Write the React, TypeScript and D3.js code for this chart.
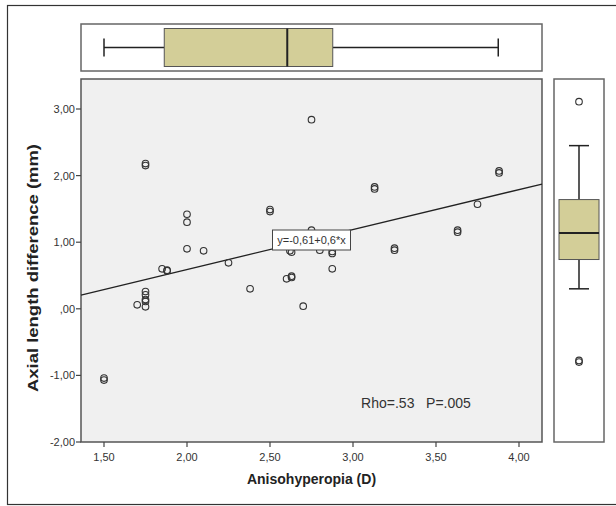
import React from "react";
import * as d3 from "d3";

const xValues = [1.50, 1.50, 1.70, 1.75, 1.75, 1.75, 1.75, 1.75, 1.75, 1.75, 1.85, 1.88, 1.88, 2.00, 2.00, 2.00, 2.10, 2.25, 2.38, 2.50, 2.50, 2.60, 2.63, 2.63, 2.63, 2.62, 2.70, 2.75, 2.75, 2.80, 2.875, 2.875, 2.875, 3.13, 3.13, 3.25, 3.25, 3.63, 3.63, 3.75, 3.88, 3.88];
const yValues = [-1.04, -1.07, 0.06, 0.26, 0.21, 0.14, 0.11, 0.03, 2.15, 2.18, 0.60, 0.58, 0.57, 1.42, 1.30, 0.90, 0.87, 0.69, 0.30, 1.46, 1.49, 0.45, 0.47, 0.49, 0.85, 0.87, 0.04, 2.84, 1.18, 0.88, 0.83, 0.86, 0.60, 1.80, 1.83, 0.88, 0.91, 1.15, 1.18, 1.57, 2.04, 2.07];

// boxplot stats: [whiskerLow, Q1, median, Q3, whiskerHigh]
const xBoxStats = [1.50, 1.863, 2.604, 2.878, 3.875];
const yBoxStats = [0.30, 0.74, 1.14, 1.64, 2.45];
const yBoxOutliers = [3.11, -0.775, -0.80];

const xTicks = [1.5, 2.0, 2.5, 3.0, 3.5, 4.0];
const yTicks = [-2, -1, 0, 1, 2, 3];

const fitIntercept = -0.61;
const fitSlope = 0.6;
const equationLabel = "y=-0,61+0,6*x";
const statsLabel = "Rho=.53   P=.005";
const xTitle = "Anisohyperopia (D)";
const yTitle = "Axial length difference (mm)";

const fmt = (v: number) => {
  const s = Math.abs(v).toFixed(2).replace(".", ",");
  const t = Math.abs(v) < 1 ? s.replace(/^0/, "") : s;
  return (v < 0 ? "-" : "") + t;
};

export default function App() {
  const W = 616, H = 506;
  const pl = 81, pr = 542, pt = 79, pb = 442;
  const x = d3.scaleLinear().domain([1.5, 4.0]).range([104, 519]);
  const y = d3.scaleLinear().domain([-2, 3]).range([442, 109]);
  const xd0 = x.invert(pl), xd1 = x.invert(pr);
  const font = "'Liberation Sans', Arial, sans-serif";
  const boxFill = "#d3ce98";
  const ink = "#222";

  const line = d3.line<number>().x((d) => x(d)).y((d) => y(fitIntercept + fitSlope * d));

  // top box panel
  const tp = { x0: pl, x1: pr, y0: 24, y1: 71 };
  const tcy = (tp.y0 + tp.y1) / 2;
  // right box panel
  const rp = { x0: 554, x1: 604, y0: pt, y1: pb };
  const rcx = (rp.x0 + rp.x1) / 2;

  const eqX = x(2.75), eqY = 240;

  return (
    <svg width={W} height={H} style={{ position: "absolute", left: 0, top: 0 }} fontFamily={font}>
      <rect x={0} y={0} width={W} height={H} fill="#fff" />
      <rect x={7.5} y={5.5} width={640} height={499} fill="#fff" stroke="#333" strokeWidth={1.2} />

      {/* top boxplot */}
      <rect x={tp.x0} y={tp.y0} width={tp.x1 - tp.x0} height={tp.y1 - tp.y0} fill="#fff" stroke="#666" strokeWidth={1.5} />
      <line x1={x(xBoxStats[0])} x2={x(xBoxStats[1])} y1={tcy} y2={tcy} stroke={ink} strokeWidth={1.5} />
      <line x1={x(xBoxStats[3])} x2={x(xBoxStats[4])} y1={tcy} y2={tcy} stroke={ink} strokeWidth={1.5} />
      <line x1={x(xBoxStats[0])} x2={x(xBoxStats[0])} y1={tcy - 9} y2={tcy + 9} stroke={ink} strokeWidth={1.5} />
      <line x1={x(xBoxStats[4])} x2={x(xBoxStats[4])} y1={tcy - 9} y2={tcy + 9} stroke={ink} strokeWidth={1.5} />
      <rect x={x(xBoxStats[1])} y={tcy - 19} width={x(xBoxStats[3]) - x(xBoxStats[1])} height={38} fill={boxFill} stroke="#555" strokeWidth={1} />
      <line x1={x(xBoxStats[2])} x2={x(xBoxStats[2])} y1={tcy - 19} y2={tcy + 19} stroke={ink} strokeWidth={2} />

      {/* main plot */}
      <rect x={pl} y={pt} width={pr - pl} height={pb - pt} fill="#f0f0f0" stroke="#555" strokeWidth={1.5} />
      {yTicks.map((t) => (
        <g key={"y" + t}>
          <line x1={pl - 5} x2={pl} y1={y(t)} y2={y(t)} stroke="#444" strokeWidth={1.2} />
          <text x={pl - 6} y={y(t) + 4} fontSize={11} textAnchor="end" fill="#333">{fmt(t)}</text>
        </g>
      ))}
      {xTicks.map((t) => (
        <g key={"x" + t}>
          <line x1={x(t)} x2={x(t)} y1={pb} y2={pb + 5} stroke="#444" strokeWidth={1.2} />
          <text x={x(t)} y={pb + 19} fontSize={11} textAnchor="middle" fill="#333">{fmt(t)}</text>
        </g>
      ))}
      <path d={line([xd0, xd1]) || ""} fill="none" stroke={ink} strokeWidth={1.3} />
      {xValues.map((xv, i) => (
        <circle key={i} cx={x(xv)} cy={y(yValues[i])} r={3.3} fill="none" stroke="#333" strokeWidth={1.1} />
      ))}
      <rect x={eqX - 39} y={eqY - 10} width={78} height={20} fill="#fff" stroke="#444" strokeWidth={1} />
      <text x={eqX} y={eqY + 4} fontSize={11} textAnchor="middle" fill="#333">{equationLabel}</text>
      <text x={416} y={408} fontSize={14} textAnchor="middle" fill="#333" style={{ whiteSpace: "pre" }}>{statsLabel}</text>

      {/* right boxplot */}
      <rect x={rp.x0} y={rp.y0} width={rp.x1 - rp.x0} height={rp.y1 - rp.y0} fill="#fff" stroke="#666" strokeWidth={1.5} />
      <line x1={rcx} x2={rcx} y1={y(yBoxStats[0])} y2={y(yBoxStats[1])} stroke={ink} strokeWidth={1.5} />
      <line x1={rcx} x2={rcx} y1={y(yBoxStats[3])} y2={y(yBoxStats[4])} stroke={ink} strokeWidth={1.5} />
      <line x1={rcx - 10} x2={rcx + 10} y1={y(yBoxStats[0])} y2={y(yBoxStats[0])} stroke={ink} strokeWidth={1.5} />
      <line x1={rcx - 10} x2={rcx + 10} y1={y(yBoxStats[4])} y2={y(yBoxStats[4])} stroke={ink} strokeWidth={1.5} />
      <rect x={rcx - 20} y={y(yBoxStats[3])} width={40} height={y(yBoxStats[1]) - y(yBoxStats[3])} fill={boxFill} stroke="#555" strokeWidth={1} />
      <line x1={rcx - 20} x2={rcx + 20} y1={y(yBoxStats[2])} y2={y(yBoxStats[2])} stroke={ink} strokeWidth={2} />
      {yBoxOutliers.map((v, i) => (
        <circle key={"o" + i} cx={rcx} cy={y(v)} r={3.3} fill="none" stroke="#333" strokeWidth={1.1} />
      ))}

      {/* titles */}
      <text x={(pl + pr) / 2} y={484} fontSize={14} fontWeight="bold" textAnchor="middle" fill="#222">{xTitle}</text>
      <text transform={`translate(38,268) rotate(-90)`} fontSize={14} fontWeight="bold" textAnchor="middle" fill="#222" textLength={248} lengthAdjust="spacingAndGlyphs">{yTitle}</text>
    </svg>
  );
}
